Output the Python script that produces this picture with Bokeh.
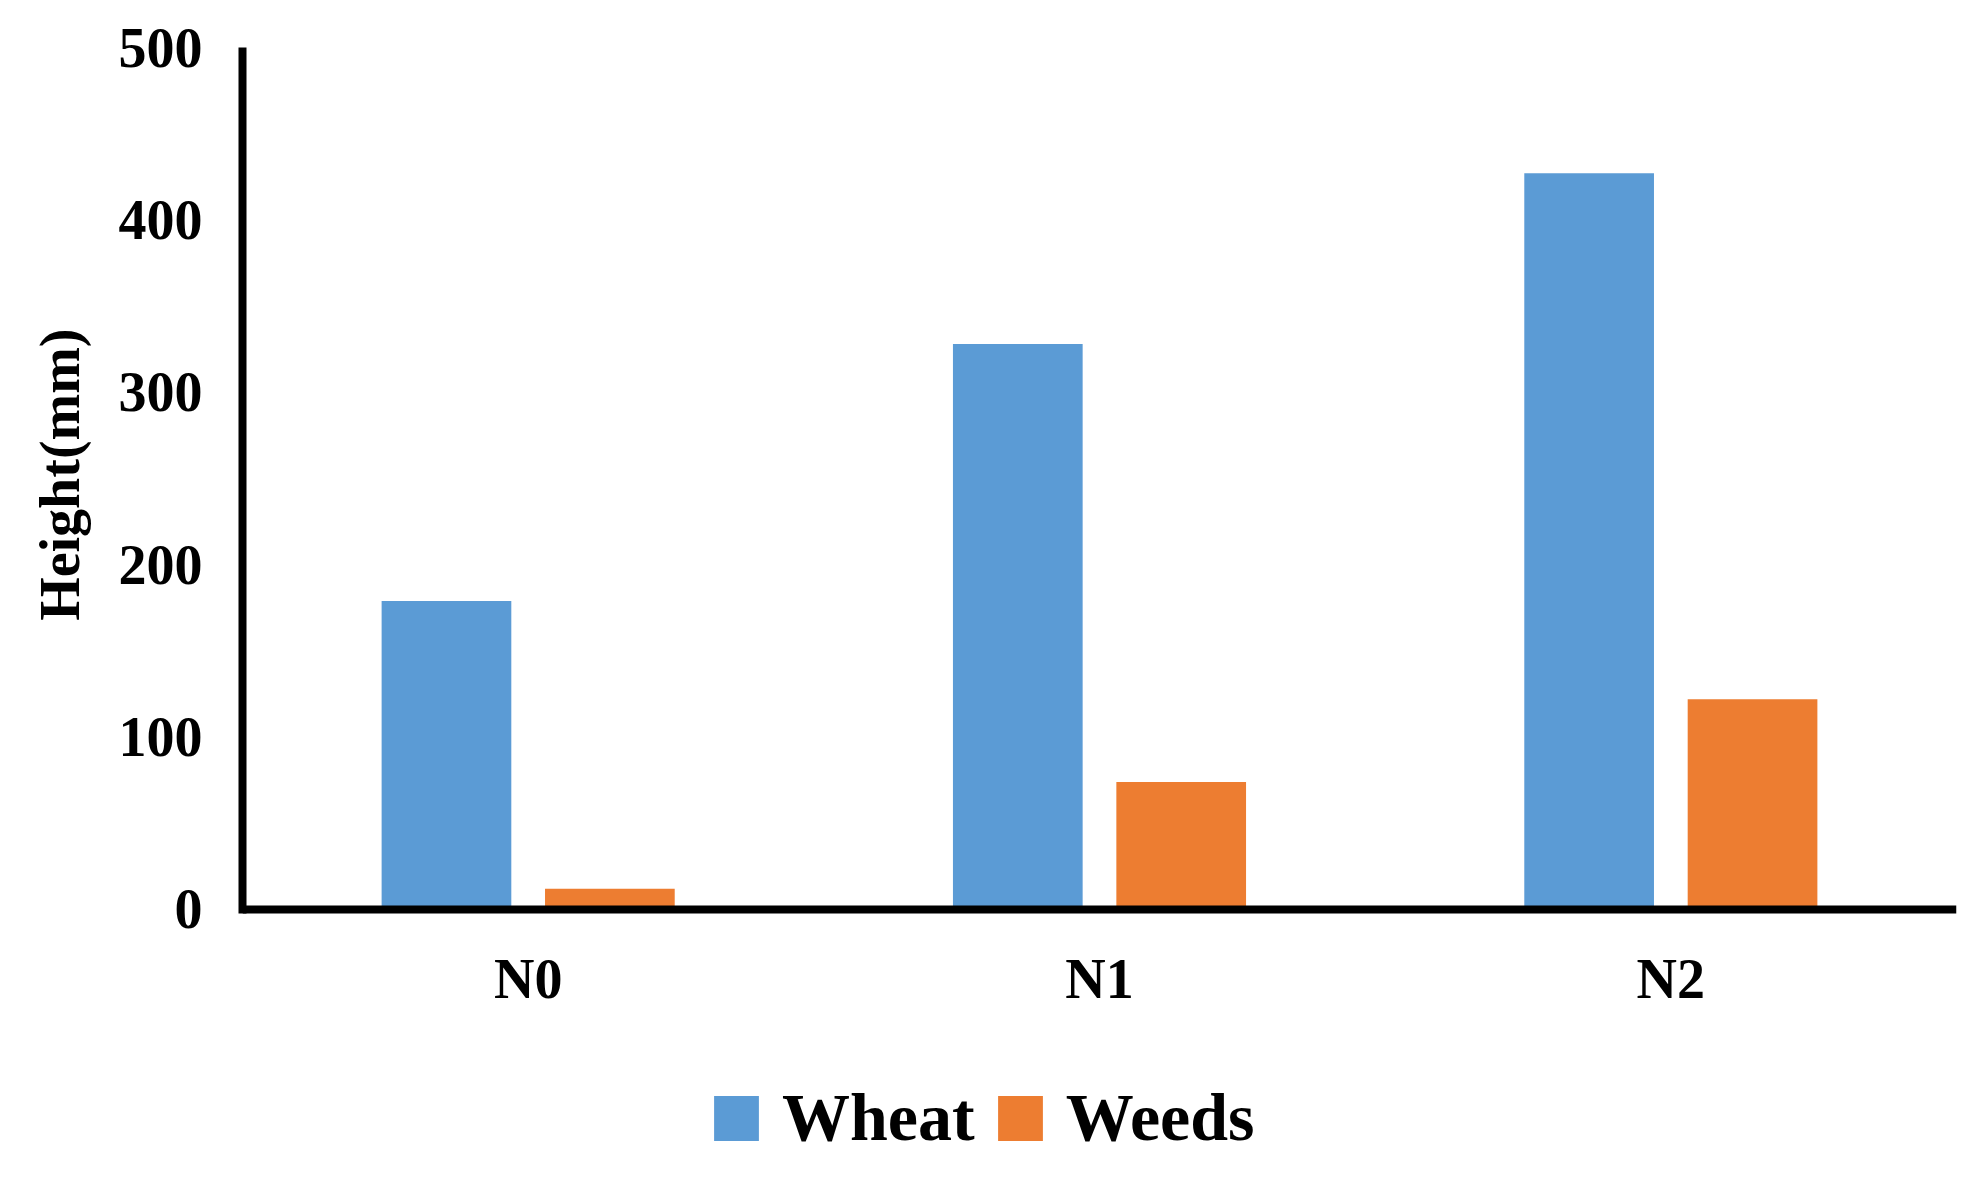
from bokeh.plotting import figure
from bokeh.models import FactorRange, Range1d, ColumnDataSource, Legend, LegendItem, Title
from bokeh.transform import dodge
from bokeh.embed import file_html
from bokeh.resources import INLINE

categories = ["N0", "N1", "N2"]
wheat = [179, 328, 427]
weeds = [12, 74, 122]
y_ticks = [0, 100, 200, 300, 400, 500]
series_names = ["Wheat", "Weeds"]
y_title = "Height(mm)"
colors = ["#5B9BD5", "#ED7D31"]

FONT = "Liberation Serif"

src = ColumnDataSource(dict(cat=categories, wheat=wheat, weeds=weeds))

p = figure(width=1961, height=1161, output_backend="svg", toolbar_location=None,
           x_range=FactorRange(*categories, range_padding=0),
           y_range=Range1d(-146.2, 500),
           min_border_left=242, min_border_right=5, min_border_top=47, min_border_bottom=0)
p.x_range.range_padding = 0
p.outline_line_color = None
p.xgrid.grid_line_color = None
p.ygrid.grid_line_color = None

r1 = p.vbar(x=dodge("cat", -0.143, range=p.x_range), top="wheat", bottom=0, width=0.227,
            source=src, fill_color=colors[0], line_color=None)
r2 = p.vbar(x=dodge("cat", 0.143, range=p.x_range), top="weeds", bottom=0, width=0.227,
            source=src, fill_color=colors[1], line_color=None)

for ax in (p.xaxis[0], p.yaxis[0]):
    ax.axis_line_width = 8
    ax.axis_line_color = "black"
    ax.major_tick_line_color = None
    ax.minor_tick_line_color = None
    ax.major_label_text_font = FONT
    ax.major_label_text_font_style = "bold"
    ax.major_label_text_font_size = "56px"
    ax.major_label_text_color = "black"

p.xaxis.fixed_location = 0
p.xaxis.major_label_standoff = 33
p.yaxis.ticker = y_ticks
p.yaxis.bounds = (-2.3, 500)
p.yaxis.major_label_standoff = 34

p.add_layout(Title(text=y_title, align="right", vertical_align="bottom",
                   offset=281, standoff=50, text_font=FONT, text_font_style="bold",
                   text_font_size="56px", text_color="black"), "left")

legend = Legend(items=[LegendItem(label=series_names[0], renderers=[r1]),
                       LegendItem(label=series_names[1], renderers=[r2])],
                orientation="horizontal", location=(466, 4),
                glyph_width=56, glyph_height=56, label_standoff=18, spacing=17,
                padding=0, margin=0, border_line_color=None, background_fill_alpha=0,
                label_text_font=FONT, label_text_font_style="bold",
                label_text_font_size="68px", label_text_color="black")
p.add_layout(legend, "center")

open("out.html", "w").write(file_html(p, INLINE))
